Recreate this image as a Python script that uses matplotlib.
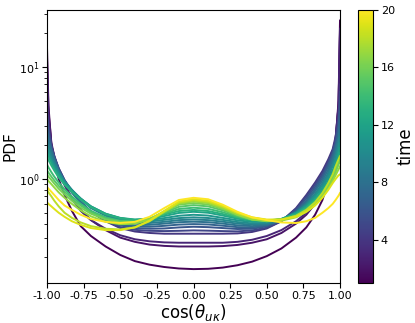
import numpy as np
import matplotlib
matplotlib.use("Agg")
import matplotlib.pyplot as plt
from matplotlib.ticker import FixedLocator, FormatStrFormatter

# x positions (cos theta) where curve values were read
x = [-1.0, -0.99, -0.97, -0.95, -0.92, -0.88, -0.83, -0.77, -0.7, -0.6, -0.5,
     -0.4, -0.3, -0.2, -0.1, 0.0, 0.1, 0.2, 0.3, 0.4, 0.5, 0.6, 0.7, 0.77,
     0.83, 0.88, 0.92, 0.95, 0.97, 0.99, 1.0]

times = list(range(1, 21))

t1 = [15, 4.5, 2.0, 1.45, 1.0, 0.72, 0.52, 0.38, 0.31, 0.25, 0.21, 0.185, 0.172, 0.164, 0.159, 0.157, 0.158, 0.162, 0.17, 0.183, 0.205, 0.24, 0.30, 0.37, 0.48, 0.65, 0.95, 1.5, 2.2, 5.0, 26]
t2 = [12, 4.0, 2.1, 1.6, 1.2, 0.9, 0.68, 0.53, 0.43, 0.35, 0.30, 0.275, 0.26, 0.253, 0.25, 0.25, 0.25, 0.252, 0.258, 0.27, 0.29, 0.33, 0.40, 0.48, 0.60, 0.80, 1.1, 1.6, 2.3, 4.5, 20]
t3 = [10, 3.6, 2.0, 1.55, 1.15, 0.88, 0.66, 0.52, 0.43, 0.36, 0.315, 0.29, 0.278, 0.272, 0.27, 0.27, 0.27, 0.27, 0.275, 0.287, 0.31, 0.35, 0.42, 0.50, 0.62, 0.82, 1.12, 1.6, 2.3, 4.5, 22]
t4 = [4.5, 3.0, 2.0, 1.6, 1.25, 0.98, 0.78, 0.62, 0.51, 0.42, 0.365, 0.34, 0.33, 0.325, 0.325, 0.325, 0.325, 0.325, 0.327, 0.337, 0.362, 0.42, 0.55, 0.72, 0.93, 1.18, 1.5, 1.85, 2.4, 3.7, 7.0]
t5 = [4.0, 2.8, 1.95, 1.58, 1.24, 0.97, 0.77, 0.62, 0.51, 0.425, 0.372, 0.352, 0.345, 0.343, 0.345, 0.348, 0.346, 0.343, 0.341, 0.348, 0.368, 0.42, 0.54, 0.70, 0.89, 1.12, 1.42, 1.78, 2.25, 3.4, 6.0]
t6 = [3.5, 2.6, 1.9, 1.55, 1.22, 0.96, 0.77, 0.62, 0.51, 0.43, 0.385, 0.365, 0.36, 0.362, 0.37, 0.375, 0.372, 0.365, 0.358, 0.36, 0.378, 0.425, 0.53, 0.67, 0.85, 1.07, 1.36, 1.7, 2.1, 3.0, 5.0]
t7 = [3.0, 2.4, 1.85, 1.52, 1.2, 0.95, 0.76, 0.62, 0.51, 0.435, 0.393, 0.377, 0.375, 0.382, 0.392, 0.396, 0.393, 0.383, 0.372, 0.37, 0.385, 0.428, 0.515, 0.64, 0.81, 1.02, 1.3, 1.62, 2.0, 2.7, 4.0]
t8 = [2.7, 2.2, 1.8, 1.5, 1.18, 0.94, 0.76, 0.62, 0.515, 0.44, 0.40, 0.387, 0.39, 0.4, 0.412, 0.416, 0.412, 0.4, 0.386, 0.38, 0.39, 0.43, 0.51, 0.62, 0.78, 0.97, 1.22, 1.52, 1.85, 2.4, 3.3]
t9 = [2.3, 2.0, 1.65, 1.42, 1.17, 0.96, 0.8, 0.66, 0.55, 0.47, 0.425, 0.405, 0.405, 0.415, 0.43, 0.435, 0.43, 0.416, 0.4, 0.392, 0.398, 0.43, 0.5, 0.6, 0.74, 0.92, 1.14, 1.4, 1.7, 2.2, 2.7]
t10 = [2.1, 1.85, 1.55, 1.36, 1.14, 0.95, 0.8, 0.67, 0.565, 0.48, 0.437, 0.418, 0.418, 0.432, 0.448, 0.455, 0.449, 0.432, 0.413, 0.402, 0.405, 0.435, 0.5, 0.59, 0.72, 0.88, 1.08, 1.3, 1.55, 2.0, 2.4]
t11 = [1.9, 1.7, 1.46, 1.29, 1.1, 0.93, 0.79, 0.67, 0.57, 0.49, 0.447, 0.428, 0.43, 0.448, 0.47, 0.48, 0.472, 0.45, 0.428, 0.414, 0.415, 0.44, 0.5, 0.58, 0.7, 0.84, 1.02, 1.2, 1.42, 1.8, 2.1]
t12 = [1.75, 1.6, 1.4, 1.24, 1.07, 0.91, 0.78, 0.665, 0.57, 0.49, 0.45, 0.435, 0.44, 0.467, 0.498, 0.51, 0.5, 0.472, 0.443, 0.424, 0.42, 0.44, 0.49, 0.565, 0.67, 0.8, 0.96, 1.13, 1.32, 1.62, 1.9]
t13 = [1.6, 1.48, 1.32, 1.19, 1.03, 0.89, 0.765, 0.655, 0.56, 0.485, 0.447, 0.433, 0.445, 0.482, 0.518, 0.53, 0.518, 0.487, 0.452, 0.43, 0.425, 0.44, 0.485, 0.555, 0.65, 0.77, 0.92, 1.07, 1.25, 1.5, 1.7]
t14 = [1.35, 1.27, 1.15, 1.05, 0.93, 0.81, 0.7, 0.6, 0.52, 0.455, 0.425, 0.42, 0.44, 0.49, 0.54, 0.555, 0.542, 0.505, 0.46, 0.432, 0.425, 0.435, 0.475, 0.54, 0.63, 0.75, 0.9, 1.05, 1.2, 1.38, 1.5]
t15 = [1.2, 1.14, 1.05, 0.97, 0.87, 0.77, 0.67, 0.58, 0.505, 0.445, 0.418, 0.415, 0.44, 0.5, 0.565, 0.585, 0.57, 0.525, 0.47, 0.435, 0.425, 0.432, 0.47, 0.53, 0.62, 0.74, 0.88, 1.03, 1.18, 1.4, 1.55]
t16 = [1.1, 1.05, 0.98, 0.91, 0.82, 0.73, 0.64, 0.555, 0.49, 0.435, 0.412, 0.412, 0.44, 0.51, 0.59, 0.61, 0.592, 0.54, 0.478, 0.437, 0.425, 0.43, 0.465, 0.52, 0.61, 0.72, 0.86, 1.0, 1.15, 1.35, 1.45]
t17 = [1.0, 0.96, 0.9, 0.84, 0.76, 0.68, 0.6, 0.525, 0.465, 0.415, 0.395, 0.4, 0.435, 0.515, 0.605, 0.63, 0.61, 0.55, 0.48, 0.435, 0.42, 0.425, 0.455, 0.51, 0.59, 0.69, 0.82, 0.96, 1.08, 1.22, 1.3]
t18 = [0.8, 0.76, 0.7, 0.64, 0.57, 0.5, 0.45, 0.41, 0.38, 0.36, 0.355, 0.37, 0.42, 0.51, 0.615, 0.645, 0.625, 0.565, 0.495, 0.45, 0.43, 0.435, 0.47, 0.53, 0.62, 0.75, 0.92, 1.1, 1.3, 1.5, 1.6]
t19 = [0.62, 0.6, 0.57, 0.54, 0.5, 0.46, 0.42, 0.39, 0.365, 0.35, 0.35, 0.37, 0.425, 0.52, 0.63, 0.66, 0.64, 0.575, 0.5, 0.455, 0.435, 0.435, 0.46, 0.51, 0.58, 0.68, 0.8, 0.92, 1.0, 1.08, 1.1]
t20 = [0.85, 0.82, 0.77, 0.72, 0.65, 0.58, 0.53, 0.48, 0.44, 0.415, 0.405, 0.415, 0.46, 0.55, 0.65, 0.68, 0.66, 0.59, 0.51, 0.455, 0.43, 0.41, 0.405, 0.42, 0.45, 0.5, 0.55, 0.6, 0.65, 0.71, 0.75]

curves = [t1, t2, t3, t4, t5, t6, t7, t8, t9, t10, t11, t12, t13, t14, t15,
          t16, t17, t18, t19, t20]

xticks = [-1.0, -0.75, -0.5, -0.25, 0.0, 0.25, 0.5, 0.75, 1.0]
cbar_ticks = [4, 8, 12, 16, 20]

fig = plt.figure(figsize=(4.15, 3.23), dpi=100)
ax = fig.add_axes([47 / 415, 1 - 283 / 323, 293 / 415, 273 / 323])
cax = fig.add_axes([358 / 415, 1 - 283 / 323, 15 / 415, 273 / 323])

cmap = plt.get_cmap("viridis")
norm = matplotlib.colors.Normalize(vmin=1, vmax=20)

for t, y in zip(times, curves):
    ax.plot(x, y, color=cmap(norm(t)), lw=1.4)

ax.set_yscale("log")
ax.set_xlim(-1, 1)
ax.set_ylim(0.118, 32.3)
ax.xaxis.set_major_locator(FixedLocator(xticks))
ax.xaxis.set_major_formatter(FormatStrFormatter("%.2f"))
ax.tick_params(labelsize=8, pad=2)
ax.set_xlabel(r"$\cos(\theta_{u\kappa})$", fontsize=12, labelpad=1)
ax.set_ylabel("PDF", fontsize=11, labelpad=1)

sm = matplotlib.cm.ScalarMappable(norm=norm, cmap=cmap)
cb = fig.colorbar(sm, cax=cax, ticks=cbar_ticks)
cb.ax.tick_params(labelsize=8, pad=2)
cb.set_label("time", fontsize=12, labelpad=1)

fig.savefig("out.png", dpi=100)
